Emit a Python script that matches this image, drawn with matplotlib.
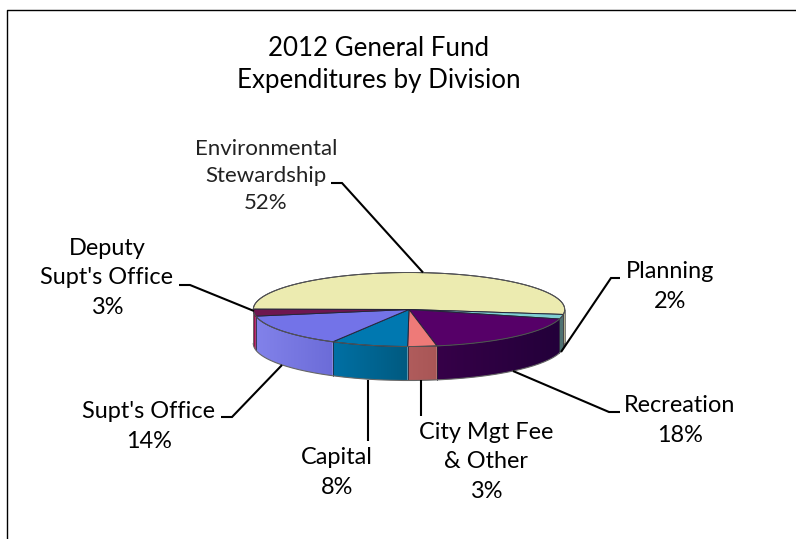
import matplotlib
matplotlib.use('Agg')
import matplotlib.pyplot as plt
from matplotlib.patches import Polygon
import numpy as np

plt.rcParams['font.family'] = ['Lato', 'DejaVu Sans']

# General fund shares, clockwise from the left edge of the pie
names = ['Environmental\nStewardship', 'Planning', 'Recreation', 'City Mgt Fee\n& Other',
         'Capital', "Supt's Office", "Deputy\nSupt's Office"]
shares = [52, 2, 18, 3, 8, 14, 3]

top_colors = ['#ECEBB0', '#7FCFD2', '#560068', '#EE7A78', '#0078B0', '#7373E8', '#6E1650']
side_left = ['#A5A56E', '#4F7272', '#360048', '#B05C5C', '#0070A4', '#8282EA', '#98104E']
side_right = ['#8A8A5C', '#4F7272', '#23003A', '#A85656', '#005A80', '#6C6CD8', '#98104E']

# label centres in pixels
label_pos = [(266, 176), (670, 286.5), (680, 420.5), (486, 462), (337, 472.5), (149, 426.5), (107, 278)]

# leader lines in pixels
leaders = [[(331, 183), (342, 183), (423, 272.5)],
           [(620, 278), (611, 278), (561, 352)],
           [(620, 412), (609, 412), (513, 371)],
           [(421, 380), (421, 416)],
           [(368, 380), (368, 441)],
           [(221, 417), (232, 417), (282, 365)],
           [(179, 285), (190, 285), (254, 311)]]

cx, cy = 409, 309.5
rx, ry = 155.7, 37
depth = 34
start = 179.5

fig = plt.figure(figsize=(7.96, 5.39), dpi=100)
ax = fig.add_axes([0, 0, 1, 1])
ax.axis('off')

# chart frame, open on the right and bottom
ax.plot([6.5, 6.5, 796], [539, 9.5, 9.5], color='black', lw=1)


def rim(deg):
    a = np.radians(deg)
    return cx + rx*np.cos(a), cy - ry*np.sin(a)


# wedge boundaries from the shares
edges = start - np.cumsum([0] + shares)*3.6

# side wall with a horizontal gradient per wedge, only the front half shows
for i in range(len(shares)):
    a0 = min(edges[i], 0)
    a1 = max(edges[i+1], -180)
    if a0 <= a1:
        continue
    xs, ys = rim(np.linspace(a1, a0, 80))
    c0 = np.array(matplotlib.colors.to_rgb(side_left[i]))
    c1 = np.array(matplotlib.colors.to_rgb(side_right[i]))
    grad = np.linspace(c0, c1, 64)[np.newaxis, :, :]
    im = ax.imshow(grad, extent=(xs[0], xs[-1], ys.max() + depth, ys.min()), aspect='auto',
                   interpolation='bilinear', zorder=2)
    clip = Polygon(np.c_[np.r_[xs, xs[::-1]], np.r_[ys, ys[::-1] + depth]],
                   transform=ax.transData, fill=False, lw=0)
    ax.add_patch(clip)
    im.set_clip_path(clip)
    if edges[i+1] > -180:
        x, y = rim(edges[i+1])
        ax.plot([x, x], [y, y + depth], color='#222233', lw=0.55, zorder=3)

# outline of the wall
xs, ys = rim(np.linspace(-180, 0, 200))
ax.plot(xs, ys + depth, color='#666666', lw=0.8, zorder=3)
ax.plot([xs[0], xs[0]], [ys[0], ys[0] + depth], color='#666666', lw=0.6, zorder=3)
ax.plot([xs[-1], xs[-1]], [ys[-1], ys[-1] + depth], color='#666666', lw=0.6, zorder=3)

# top face
for i in range(len(shares)):
    xs, ys = rim(np.linspace(edges[i], edges[i+1], 120))
    ax.fill(np.r_[cx, xs], np.r_[cy, ys], facecolor=top_colors[i], edgecolor='#26263A',
            lw=0.7, joinstyle='round', zorder=4)
xs, ys = rim(np.linspace(0, 360, 400))
ax.plot(xs, ys, color='#555555', lw=0.7, zorder=5)

for line in leaders:
    ax.plot([p[0] for p in line], [p[1] for p in line], color='black', lw=1.5,
            solid_capstyle='butt', solid_joinstyle='miter', zorder=6)

for name, share, pos in zip(names, shares, label_pos):
    size = 16.9
    col = 'black'
    spacing = 1.5
    if name.count('\n') == 0:
        spacing = 1.58
    if share == 52:
        size = 16
        col = '#222222'
        spacing = 1.41
    ax.text(pos[0], pos[1], f'{name}\n{share}%', ha='center', va='center', fontsize=size,
            color=col, linespacing=spacing, zorder=7)

ax.text(379, 64.5, '2012 General Fund\nExpenditures by Division', ha='center', va='center',
        fontsize=18.6, color='black', linespacing=1.33, zorder=7)

ax.set_xlim(0, 796)
ax.set_ylim(539, 0)
fig.savefig('out.png', dpi=100)
